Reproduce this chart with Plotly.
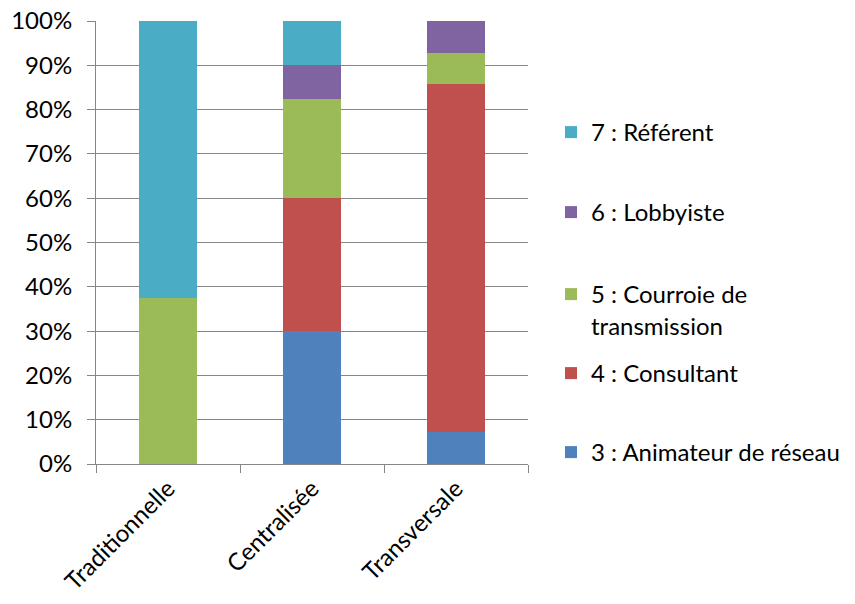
import plotly.graph_objects as go

categories = ["Traditionnelle", "Centralisée", "Transversale"]
series_names = ["3 : Animateur de réseau", "4 : Consultant", "5 : Courroie de<br>transmission", "6 : Lobbyiste", "7 : Référent"]
series_colors = ["#4F81BD", "#C0504D", "#9BBB59", "#8064A2", "#4BACC6"]
s3 = [0.0, 0.30, 1/14]
s4 = [0.0, 0.30, 11/14]
s5 = [0.375, 0.225, 1/14]
s6 = [0.0, 0.075, 1/14]
s7 = [0.625, 0.10, 0.0]
series_values = [s3, s4, s5, s6, s7]

# plot area in page pixels
L, R, T, B = 96, 528, 21, 464
W, H = 855, 604
FONT = "Lato"
FS = 24

def px_x(x):
    return (x - L) / (R - L)

def px_y(y):
    return (B - y) / (B - T)

# legend text centre y (page pixels) per series
legend_centres = [453, 374, 295, 213, 133]
legend_names = ["legend", "legend2", "legend3", "legend4", "legend5"]

fig = go.Figure()
for name, col, vals, lg in zip(series_names, series_colors, series_values, legend_names):
    fig.add_trace(go.Bar(x=categories, y=vals, name=name, marker=dict(color=col, line=dict(width=0)),
                         legend=lg, showlegend=True))

layout_legends = {}
for lg, cy in zip(legend_names, legend_centres):
    layout_legends[lg] = dict(
        x=px_x(551), xanchor="left",
        y=px_y(cy - 23), yanchor="top",
        valign="top",
        font=dict(family=FONT, size=FS, color="#000000"),
        bgcolor="rgba(0,0,0,0)", borderwidth=0,
    )

fig.update_layout(
    width=W, height=H,
    margin=dict(l=L, r=W - R, t=T, b=H - B, autoexpand=False),
    barmode="stack",
    bargap=0.6,
    showlegend=True,
    plot_bgcolor="white", paper_bgcolor="white",
    font=dict(family=FONT, size=FS, color="#000000"),
    **layout_legends,
)
fig.update_xaxes(
    type="category", showline=True, linecolor="#868686", linewidth=1,
    ticks="outside", ticklen=8, tickcolor="#868686", tickwidth=1,
    tickson="boundaries", showgrid=False, tickangle=-45,
    tickfont=dict(family=FONT, size=FS, color="#000000"),
)
fig.update_yaxes(
    range=[0, 1], tickvals=[i / 10 for i in range(11)], tickformat=".0%",
    showline=True, linecolor="#868686", linewidth=1,
    ticks="outside", ticklen=8, tickcolor="#868686", tickwidth=1,
    showgrid=True, gridcolor="#868686", gridwidth=1, zeroline=False,
    ticklabelstandoff=10, ticklabeloverflow="allow",
    tickfont=dict(family=FONT, size=FS, color="#000000"),
)
fig.write_html("out.html", config={"displayModeBar": False},
               post_script="document.body.style.margin='0';document.body.style.overflow='hidden';")
